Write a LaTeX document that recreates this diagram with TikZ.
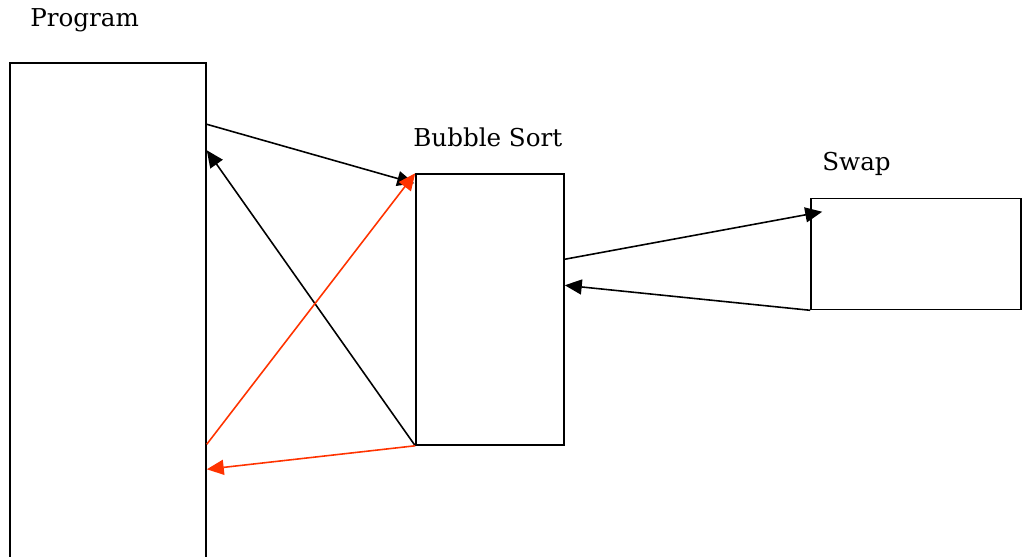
\documentclass[tikz,border=0pt]{standalone}
\usepackage{xcolor}
\usepackage{fontspec}
\setmainfont{DejaVu Serif}
\usetikzlibrary{arrows.meta,calc,positioning}
\definecolor{callred}{RGB}{255,51,0}

\begin{document}
\begin{tikzpicture}
      [ x=0.02cm, y=-0.02cm,
        block/.style={draw, line width=0.9pt, inner sep=0pt},
        title/.style={font=\fontsize{14}{17}\selectfont, inner sep=0pt, anchor=base west},
        call/.style={-{Triangle[length=3.4mm,width=3mm]}, line width=0.9pt},
        redcall/.style={call, color=callred}
      ]
      \useasboundingbox (0,0) rectangle (1022,556);

      \node[block, minimum width=3.92cm, minimum height=9.94cm] (prog)   at (108,311.5) {};
      \node[block, minimum width=2.96cm, minimum height=5.42cm] (bubble) at (490,309.5) {};
      \node[block, minimum width=4.20cm, minimum height=2.22cm] (swap)   at (916,254)   {};

      \node[title] (prog_t)   at (30,26)   {Program};
      \node[title] (bubble_t) at (413,146) {Bubble Sort};
      \node[title] (swap_t)   at (822,170) {Swap};

      \coordinate (p_out)  at ($(prog.north east)+(0,62)$);
      \coordinate (p_in)   at ($(prog.north east)+(0,88)$);
      \coordinate (p_rout) at ($(prog.north east)+(0,382)$);
      \coordinate (p_rin)  at ($(prog.north east)+(0,407)$);
      \coordinate (b_top)  at ($(bubble.north west)+(-1,10)$);
      \coordinate (b_out)  at ($(bubble.north east)+(0,86)$);
      \coordinate (b_in)   at ($(bubble.north east)+(0,112)$);
      \coordinate (s_in)   at ($(swap.north west)+(12,14)$);

      \path[call] (p_out)              edge (b_top)
                  (bubble.south west)  edge (p_in)
                  (b_out)              edge (s_in)
                  (swap.south west)    edge (b_in);
      \path[redcall] (p_rout)             edge (bubble.north west)
                     (bubble.south west)  edge (p_rin);
    \end{tikzpicture}
\end{document}
